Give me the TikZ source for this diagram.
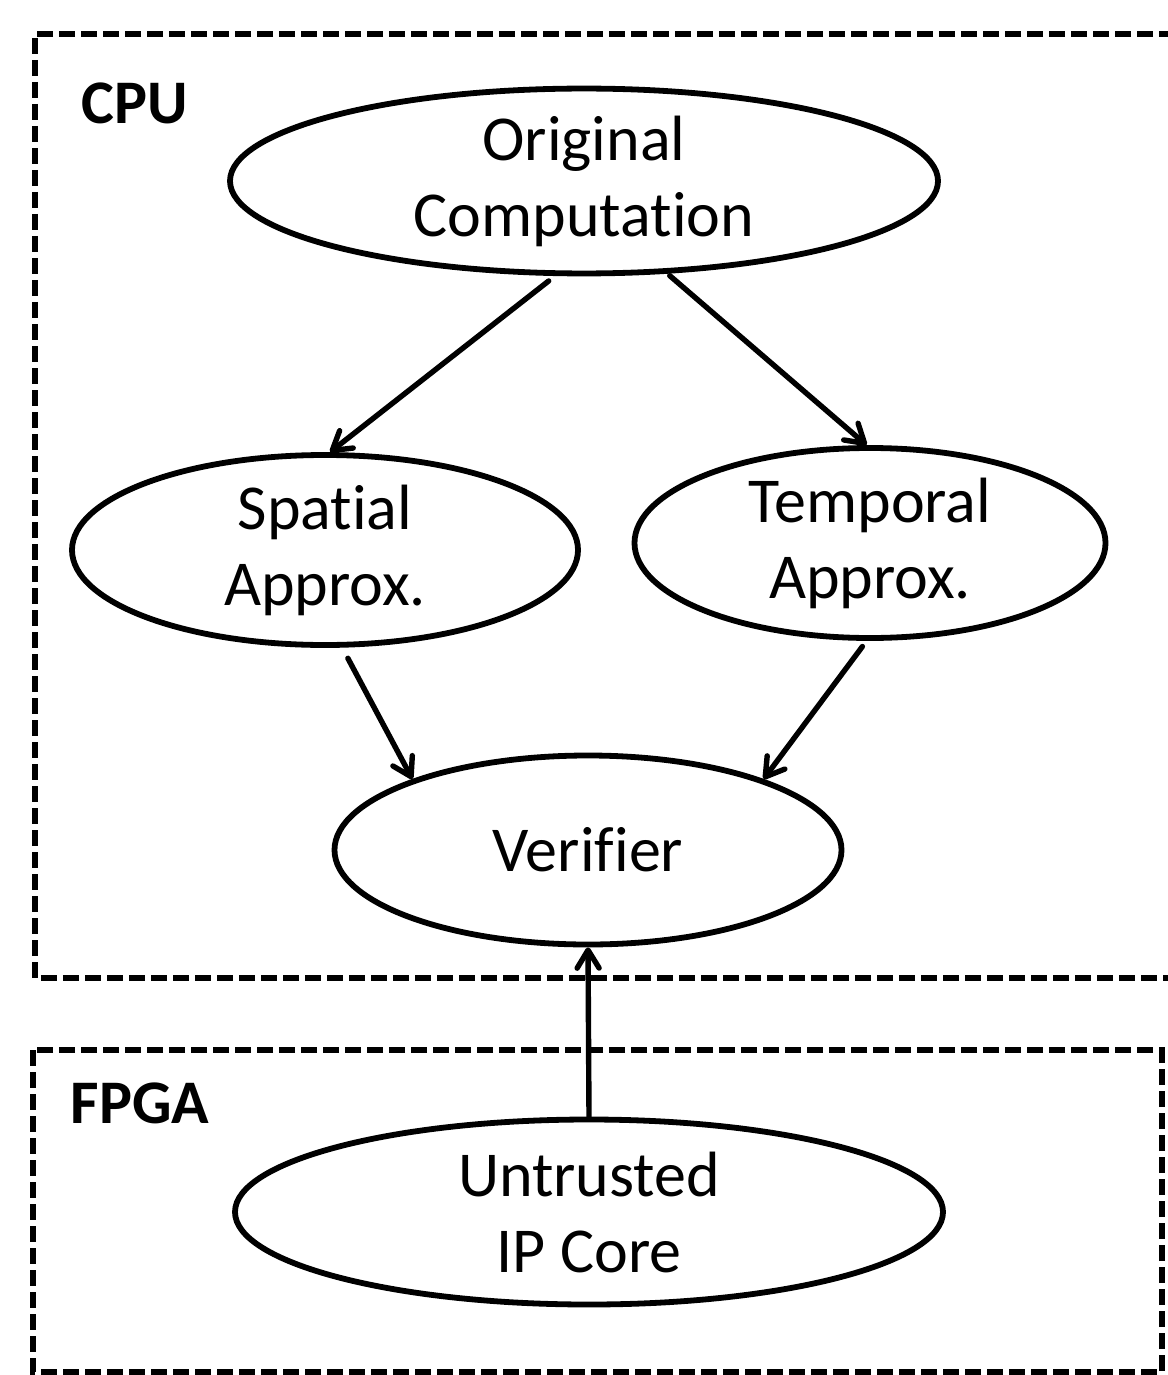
\documentclass[tikz,border=0pt]{standalone}
\usepackage{fontspec}
\setmainfont[RawFeature={-liga;-clig}]{Carlito}
\usetikzlibrary{shapes.geometric,arrows.meta}
\begin{document}
\begin{tikzpicture}[x=0.5pt,y=-0.5pt,
  blob/.style={ellipse,draw,line width=2.9pt,inner sep=0pt,align=center,
    font=\fontsize{32}{38}\selectfont},
  arr/.style={line width=2.7pt,line cap=round,
    -{Straight Barb[length=9pt,width=11pt,line cap=round,line join=round]}},
  zone/.style={draw,line width=3.1pt,dash pattern=on 8pt off 3pt},
  tag/.style={font=\fontsize{31}{36}\selectfont\bfseries}]
\useasboundingbox (0,0) rectangle (1167,1375);

% processor regions
\draw[zone] (1175,34) -- (35,34) -- (35,978) -- (1175,978);
\draw[zone] (33,1050) rectangle (1162,1372);
\node[tag] (cpu) at (135,103) {CPU};
\node[tag] (fpga) at (140,1103) {FPGA};

% computation nodes
\node[blob,minimum width=354pt,minimum height=86.5pt] (oc) at (584,181) {Original\\Computation};
\node[blob,minimum width=253pt,minimum height=95pt] (sp) at (325,550) {Spatial\\Approx.};
\node[blob,minimum width=235.5pt,minimum height=95pt] (tp) at (870,543) {Temporal\\Approx.};
\node[blob,minimum width=253.5pt,minimum height=94.5pt] (vf) at (588,850) {Verifier};
\node[blob,minimum width=354pt,minimum height=92.5pt] (ip) at (589,1212) {Untrusted\\IP Core};

% data flow
\draw[arr,shorten <=4pt] (oc.253) -- (sp.87);
\draw[arr,shorten <=1.5pt] (oc.312) -- (tp.92);
\draw[arr,shorten <=6pt] (sp.280) -- (vf.158);
\draw[arr,shorten <=3.5pt] (tp.268) -- (vf.22);
\draw[arr] (ip.north) -- (vf.south);
\end{tikzpicture}
\end{document}
